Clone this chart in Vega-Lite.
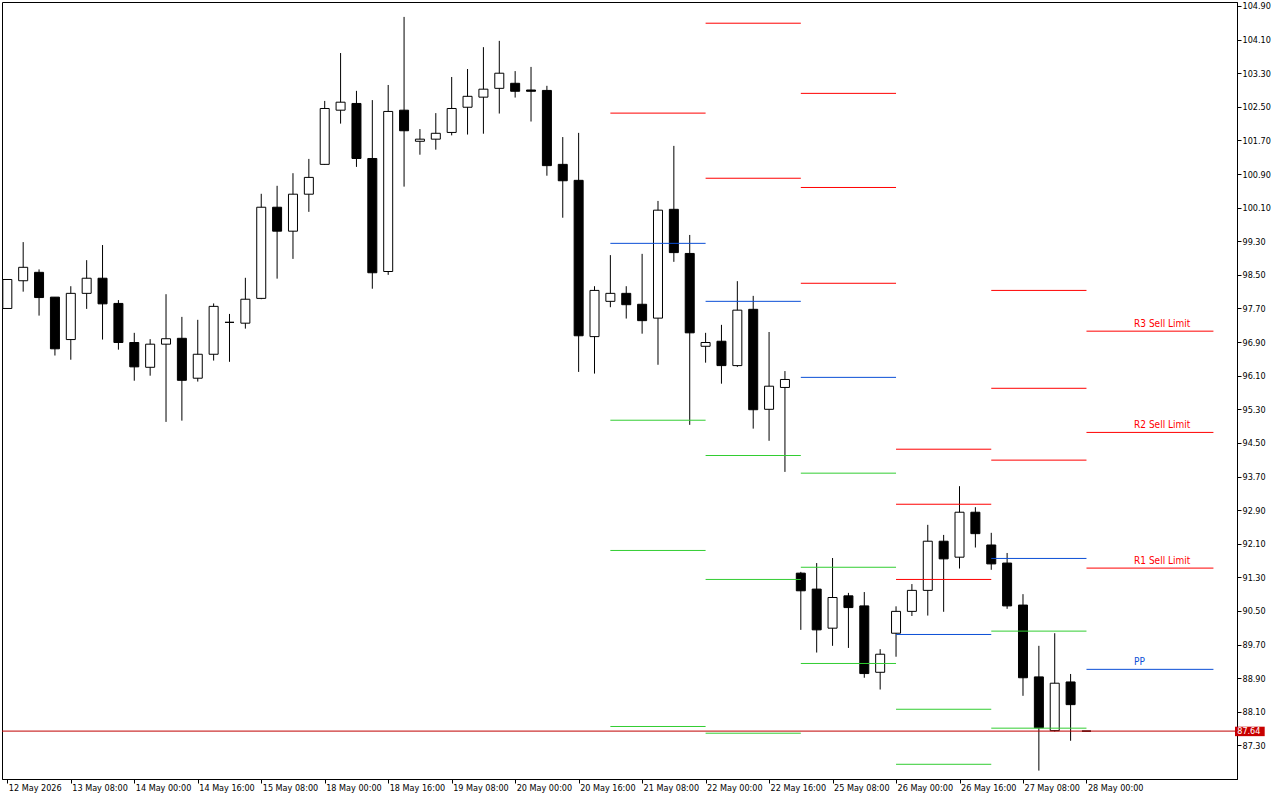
{
  "$schema": "https://vega.github.io/schema/vega-lite/v6.json",
  "width": 1235,
  "height": 777,
  "autosize": {"type": "none"},
  "padding": {"left": 2, "top": 2, "right": 43, "bottom": 21},
  "background": "white",
  "config": {
    "view": {"stroke": "black", "strokeWidth": 1},
    "axis": {"grid": false, "labelFont": "'DejaVu Sans Condensed', 'Noto Sans', sans-serif", "labelFontSize": 9, "labelColor": "black", "tickColor": "black", "domainColor": "black", "tickSize": 4, "tickWidth": 1, "domainWidth": 1, "labelOverlap": false, "labelFlush": false, "labelBound": false}
  },
  "datasets": {
    "candles": [
      {"i":0,"o":97.70,"h":98.39,"l":97.70,"c":98.39},
      {"i":1,"o":98.36,"h":99.28,"l":98.10,"c":98.68},
      {"i":2,"o":98.56,"h":98.63,"l":97.53,"c":97.96},
      {"i":3,"o":97.97,"h":97.97,"l":96.58,"c":96.74},
      {"i":4,"o":96.96,"h":98.23,"l":96.48,"c":98.06},
      {"i":5,"o":98.06,"h":98.85,"l":97.69,"c":98.42},
      {"i":6,"o":98.42,"h":99.21,"l":96.96,"c":97.81},
      {"i":7,"o":97.82,"h":97.90,"l":96.72,"c":96.89},
      {"i":8,"o":96.89,"h":97.12,"l":95.98,"c":96.31},
      {"i":9,"o":96.30,"h":96.97,"l":96.10,"c":96.85},
      {"i":10,"o":96.85,"h":98.04,"l":95.00,"c":96.98},
      {"i":11,"o":96.99,"h":97.50,"l":95.03,"c":95.99},
      {"i":12,"o":96.04,"h":97.43,"l":95.96,"c":96.61},
      {"i":13,"o":96.61,"h":97.82,"l":96.46,"c":97.75},
      {"i":14,"o":97.37,"h":97.57,"l":96.43,"c":97.37},
      {"i":15,"o":97.35,"h":98.43,"l":97.22,"c":97.92},
      {"i":16,"o":97.94,"h":100.43,"l":97.92,"c":100.11},
      {"i":17,"o":100.11,"h":100.62,"l":98.41,"c":99.54},
      {"i":18,"o":99.54,"h":100.92,"l":98.88,"c":100.42},
      {"i":19,"o":100.42,"h":101.26,"l":100.00,"c":100.82},
      {"i":20,"o":101.13,"h":102.64,"l":101.12,"c":102.46},
      {"i":21,"o":102.42,"h":103.78,"l":102.10,"c":102.61},
      {"i":22,"o":102.58,"h":102.88,"l":101.07,"c":101.27},
      {"i":23,"o":101.27,"h":102.66,"l":98.17,"c":98.55},
      {"i":24,"o":98.58,"h":103.02,"l":98.50,"c":102.39},
      {"i":25,"o":102.42,"h":104.64,"l":100.60,"c":101.93},
      {"i":26,"o":101.68,"h":101.97,"l":101.36,"c":101.73},
      {"i":27,"o":101.73,"h":102.35,"l":101.48,"c":101.87},
      {"i":28,"o":101.89,"h":103.21,"l":101.82,"c":102.46},
      {"i":29,"o":102.49,"h":103.40,"l":101.84,"c":102.75},
      {"i":30,"o":102.73,"h":103.92,"l":101.86,"c":102.92},
      {"i":31,"o":102.94,"h":104.07,"l":102.34,"c":103.30},
      {"i":32,"o":103.06,"h":103.35,"l":102.72,"c":102.87},
      {"i":33,"o":102.90,"h":103.45,"l":102.15,"c":102.87},
      {"i":34,"o":102.89,"h":103.00,"l":100.86,"c":101.10},
      {"i":35,"o":101.13,"h":101.78,"l":99.86,"c":100.74},
      {"i":36,"o":100.75,"h":101.88,"l":96.19,"c":97.05},
      {"i":37,"o":97.03,"h":98.23,"l":96.15,"c":98.13},
      {"i":38,"o":97.87,"h":98.97,"l":97.73,"c":98.06},
      {"i":39,"o":98.06,"h":98.23,"l":97.46,"c":97.79},
      {"i":40,"o":97.80,"h":99.00,"l":97.10,"c":97.41},
      {"i":41,"o":97.47,"h":100.26,"l":96.36,"c":100.04},
      {"i":42,"o":100.06,"h":101.57,"l":98.81,"c":99.03},
      {"i":43,"o":99.01,"h":99.45,"l":94.93,"c":97.12},
      {"i":44,"o":96.80,"h":97.12,"l":96.41,"c":96.89},
      {"i":45,"o":96.92,"h":97.31,"l":95.91,"c":96.34},
      {"i":46,"o":96.34,"h":98.35,"l":96.31,"c":97.66},
      {"i":47,"o":97.68,"h":98.00,"l":94.84,"c":95.29},
      {"i":48,"o":95.30,"h":97.14,"l":94.55,"c":95.85},
      {"i":49,"o":95.82,"h":96.21,"l":93.81,"c":96.01},
      {"i":50,"o":91.40,"h":91.43,"l":90.05,"c":90.98},
      {"i":51,"o":91.02,"h":91.64,"l":89.51,"c":90.05},
      {"i":52,"o":90.09,"h":91.76,"l":89.67,"c":90.82},
      {"i":53,"o":90.86,"h":90.93,"l":89.62,"c":90.58},
      {"i":54,"o":90.62,"h":90.95,"l":88.91,"c":89.01},
      {"i":55,"o":89.04,"h":89.59,"l":88.63,"c":89.47},
      {"i":56,"o":89.97,"h":90.61,"l":89.41,"c":90.49},
      {"i":57,"o":90.49,"h":91.14,"l":90.38,"c":90.99},
      {"i":58,"o":90.99,"h":92.55,"l":90.39,"c":92.16},
      {"i":59,"o":92.16,"h":92.31,"l":90.48,"c":91.74},
      {"i":60,"o":91.78,"h":93.47,"l":91.51,"c":92.85},
      {"i":61,"o":92.85,"h":92.97,"l":92.01,"c":92.34},
      {"i":62,"o":92.07,"h":92.36,"l":91.48,"c":91.62},
      {"i":63,"o":91.64,"h":91.88,"l":90.55,"c":90.62},
      {"i":64,"o":90.64,"h":90.90,"l":88.48,"c":88.91},
      {"i":65,"o":88.93,"h":89.67,"l":86.70,"c":87.72},
      {"i":66,"o":87.65,"h":89.97,"l":87.63,"c":88.78},
      {"i":67,"o":88.81,"h":89.00,"l":87.41,"c":88.27},
      {"i":68,"o":87.64,"h":87.64,"l":87.64,"c":87.64}
    ],
    "pivots": [
      {"x0":38,"x1":44,"p":102.35,"k":"R"},
      {"x0":38,"x1":44,"p":99.25,"k":"P"},
      {"x0":38,"x1":44,"p":95.04,"k":"S"},
      {"x0":38,"x1":44,"p":91.94,"k":"S"},
      {"x0":38,"x1":44,"p":87.75,"k":"S"},
      {"x0":44,"x1":50,"p":104.49,"k":"R"},
      {"x0":44,"x1":50,"p":100.80,"k":"R"},
      {"x0":44,"x1":50,"p":97.87,"k":"P"},
      {"x0":44,"x1":50,"p":94.20,"k":"S"},
      {"x0":44,"x1":50,"p":91.25,"k":"S"},
      {"x0":44,"x1":50,"p":87.59,"k":"S"},
      {"x0":50,"x1":56,"p":102.82,"k":"R"},
      {"x0":50,"x1":56,"p":100.58,"k":"R"},
      {"x0":50,"x1":56,"p":98.30,"k":"R"},
      {"x0":50,"x1":56,"p":96.06,"k":"P"},
      {"x0":50,"x1":56,"p":93.78,"k":"S"},
      {"x0":50,"x1":56,"p":91.54,"k":"S"},
      {"x0":50,"x1":56,"p":89.25,"k":"S"},
      {"x0":56,"x1":62,"p":94.35,"k":"R"},
      {"x0":56,"x1":62,"p":93.04,"k":"R"},
      {"x0":56,"x1":62,"p":91.25,"k":"R"},
      {"x0":56,"x1":62,"p":89.94,"k":"P"},
      {"x0":56,"x1":62,"p":88.16,"k":"S"},
      {"x0":56,"x1":62,"p":86.85,"k":"S"},
      {"x0":62,"x1":68,"p":98.13,"k":"R"},
      {"x0":62,"x1":68,"p":95.80,"k":"R"},
      {"x0":62,"x1":68,"p":94.09,"k":"R"},
      {"x0":62,"x1":68,"p":91.75,"k":"P"},
      {"x0":62,"x1":68,"p":90.02,"k":"S"},
      {"x0":62,"x1":68,"p":87.71,"k":"S"},
      {"x0":68,"x1":76,"p":97.16,"k":"R","label":"R3 Sell Limit"},
      {"x0":68,"x1":76,"p":94.75,"k":"R","label":"R2 Sell Limit"},
      {"x0":68,"x1":76,"p":91.52,"k":"R","label":"R1 Sell Limit"},
      {"x0":68,"x1":76,"p":89.11,"k":"P","label":"PP"}
    ],
    "bid": [{"price": 87.64}]
  },
  "layer": [
    {
      "data": {"name": "candles"},
      "mark": {"type": "rule", "color": "black", "strokeWidth": 1, "clip": true},
      "encoding": {
        "x": {"field": "i", "type": "quantitative", "title": null,
          "scale": {"domain": [-0.02, 77.17], "nice": false, "zero": false},
          "axis": {"orient": "bottom", "tickCount": 100, "values": [0,4,8,12,16,20,24,28,32,36,40,44,48,52,56,60,64,68],
            "labelExpr": "['12 May 2026','13 May 08:00','14 May 00:00','14 May 16:00','15 May 08:00','18 May 00:00','18 May 16:00','19 May 08:00','20 May 00:00','20 May 16:00','21 May 08:00','22 May 00:00','22 May 16:00','25 May 08:00','26 May 00:00','26 May 16:00','27 May 08:00','28 May 00:00'][round(datum.value/4)]",
            "labelAlign": "left", "labelBaseline": "top", "labelPadding": 0, "labelOffset": 1,
            "labelOverlap": false, "labelFlush": false, "labelBound": false, "domain": true}},
        "y": {"field": "l", "type": "quantitative", "title": null,
          "scale": {"domain": [86.5, 104.995], "nice": false, "zero": false},
          "axis": {"orient": "right", "tickCount": 100, "values": [87.3,88.1,88.9,89.7,90.5,91.3,92.1,92.9,93.7,94.5,95.3,96.1,96.9,97.7,98.5,99.3,100.1,100.9,101.7,102.5,103.3,104.1,104.9],
            "format": ".2f", "labelAlign": "left", "labelBaseline": "middle", "labelPadding": 1,
            "labelOverlap": false, "labelFlush": false, "labelBound": false, "domain": true}},
        "y2": {"field": "h"}
      }
    },
    {
      "data": {"name": "candles"},
      "mark": {"type": "bar", "size": 9, "stroke": "black", "strokeWidth": 1, "opacity": 1, "clip": true},
      "encoding": {
        "x": {"field": "i", "type": "quantitative", "title": null},
        "y": {"field": "o", "type": "quantitative", "title": null},
        "y2": {"field": "c"},
        "fill": {"condition": {"test": "datum.c >= datum.o", "value": "white"}, "value": "black"}
      }
    },
    {
      "data": {"name": "pivots"},
      "mark": {"type": "rule", "strokeWidth": 1, "clip": true},
      "encoding": {
        "x": {"field": "x0", "type": "quantitative", "title": null},
        "x2": {"field": "x1"},
        "y": {"field": "p", "type": "quantitative", "title": null},
        "color": {"field": "k", "type": "nominal", "legend": null,
          "scale": {"domain": ["R", "P", "S"], "range": ["#FF0000", "#0B4FD6", "#32CD32"]}}
      }
    },
    {
      "data": {"name": "bid"},
      "mark": {"type": "rule", "color": "#C00000", "strokeWidth": 1},
      "encoding": {
        "y": {"field": "price", "type": "quantitative", "title": null}
      }
    },
    {
      "data": {"name": "pivots"},
      "transform": [{"filter": "isValid(datum.label)"}],
      "mark": {"type": "text", "align": "left", "baseline": "alphabetic", "dy": -4, "font": "'DejaVu Sans Condensed', 'Noto Sans', sans-serif", "fontSize": 10},
      "encoding": {
        "x": {"datum": 71},
        "y": {"field": "p", "type": "quantitative", "title": null},
        "text": {"field": "label"},
        "color": {"field": "k", "type": "nominal", "legend": null}
      }
    },
    {
      "data": {"name": "bid"},
      "mark": {"type": "rect", "color": "#C80000"},
      "encoding": {
        "x": {"datum": 77.36},
        "x2": {"datum": 79.23},
        "y": {"datum": 87.745},
        "y2": {"datum": 87.52}
      }
    },
    {
      "data": {"name": "bid"},
      "mark": {"type": "text", "align": "left", "baseline": "middle", "font": "'DejaVu Sans Condensed', 'Noto Sans', sans-serif", "fontSize": 9, "color": "white"},
      "encoding": {
        "x": {"datum": 77.5},
        "y": {"field": "price", "type": "quantitative", "title": null},
        "text": {"field": "price", "format": ".2f"}
      }
    }
  ]
}
